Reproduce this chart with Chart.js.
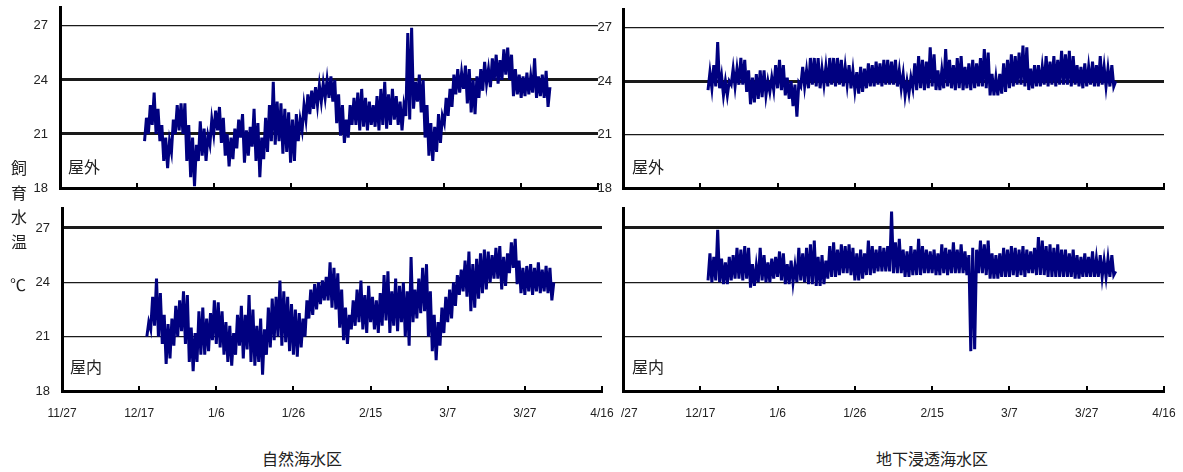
<!DOCTYPE html>
<html lang="ja">
<head>
    <meta charset="UTF-8">
    <title>飼育水温</title>
    <script src="https://cdn.jsdelivr.net/npm/chart.js"></script>
    <style>
        body {
            margin: 0;
            background: #fff;
            width: 1183px;
            height: 472px;
            position: relative;
            overflow: hidden;
            font-family: 'Noto Sans CJK JP', sans-serif;
            color: #222;
        }
        .box {
            position: absolute;
            overflow: hidden;
        }
        .box canvas {
            position: absolute;
            top: 0;
        }
        .txt {
            position: absolute;
            font-size: 16px;
            line-height: 18px;
            white-space: nowrap;
        }
    </style>
</head>
<body>
    <div class="box" style="left:0;top:-10px;width:600px;height:204px"><canvas id="natOut" width="600" height="204" style="left:0"></canvas></div>
    <div class="box" style="left:0;top:190px;width:620px;height:250px"><canvas id="natIn" width="620" height="250" style="left:0"></canvas></div>
    <div class="box" style="left:560px;top:-10px;width:623px;height:204px"><canvas id="subOut" width="623" height="204" style="left:0"></canvas></div>
    <div class="box" style="left:621px;top:190px;width:562px;height:250px"><canvas id="subIn" width="623" height="250" style="left:-61px"></canvas></div>

    <div class="txt" style="left:11px;top:155px;line-height:24.5px;width:18px">飼<br>育<br>水<br>温</div>
    <div class="txt" style="left:10px;top:275px">℃</div>
    <div class="txt" style="left:68px;top:157px">屋外</div>
    <div class="txt" style="left:70px;top:357px">屋内</div>
    <div class="txt" style="left:632px;top:157px">屋外</div>
    <div class="txt" style="left:632px;top:357px">屋内</div>
    <div class="txt" style="left:262px;top:449px">自然海水区</div>
    <div class="txt" style="left:876px;top:449px">地下浸透海水区</div>

    <script>
        const tickLabels = ['11/27', '12/17', '1/6', '1/26', '2/15', '3/7', '3/27', '4/16'];
        const tickDays = [0, 20, 40, 60, 80, 100, 120, 140];
        const yTicks = [18, 21, 24, 27];
        const startDay = 22; // first logged day (12/19), days counted from 11/27

        // 自然海水区 屋外 : daily low / high
        const natOutLo = [
            20.6, 21.0, 21.5, 21.0, 20.6, 19.5, 19.1, 20.0, 21.0, 21.2,
            21.0, 19.5, 18.6, 18.1, 19.5, 19.8, 19.5, 20.4, 21.0, 21.2,
            20.5, 19.8, 19.2, 19.6, 20.2, 20.8, 19.4, 19.8, 20.3, 19.5,
            18.6, 19.6, 20.0, 20.6, 20.4, 20.6, 19.9, 20.0, 19.4, 19.5,
            20.6, 21.2, 21.8, 22.1, 22.4, 22.6, 22.8, 23.0, 23.0, 22.8,
            21.6, 20.9, 20.5, 20.8, 21.5, 21.5, 21.2, 21.4, 21.2, 21.5,
            21.4, 21.2, 21.5, 21.3, 21.5, 21.8, 21.5, 21.2, 22.0, 21.8,
            22.4, 22.8, 22.2, 20.8, 19.8, 19.5, 20.0, 20.5, 21.6, 22.0,
            22.5, 23.2, 23.3, 23.5, 22.7, 22.2, 22.1, 23.0, 23.4, 23.8,
            23.6, 24.0, 23.8, 24.0, 24.3, 24.0, 23.1, 23.2, 23.0, 23.1,
            23.2, 23.3, 23.0, 23.1, 23.0, 22.5
        ];
        const natOutHi = [
            21.9, 22.6, 23.3, 22.4, 21.5, 20.8, 20.6, 21.8, 22.6, 22.7,
            22.7, 21.5, 20.8, 20.4, 21.7, 21.3, 20.9, 21.8, 22.3, 22.5,
            21.9, 21.0, 20.8, 21.3, 21.8, 22.1, 21.2, 21.4, 22.4, 21.6,
            20.8, 21.9, 22.6, 23.9, 22.8, 22.7, 22.4, 22.2, 21.8, 22.1,
            21.8, 22.6, 23.2, 23.4, 23.6, 23.7, 23.8, 24.0, 24.2, 24.0,
            23.2, 22.6, 21.8, 22.6, 23.0, 23.3, 23.5, 23.0, 22.8, 22.6,
            23.1, 23.5, 23.9, 23.2, 23.5, 23.1, 22.8, 22.6, 26.6, 26.9,
            23.9, 24.3, 24.0, 22.6, 21.6, 21.4, 22.1, 22.0, 23.0, 23.5,
            24.3, 24.6, 24.4, 24.8, 24.6, 24.0, 24.2, 24.6, 25.0, 24.6,
            25.2, 25.4, 25.1, 25.7, 25.8, 25.4, 24.6, 24.3, 24.2, 24.4,
            24.2, 25.2, 24.2, 24.3, 24.5, 23.6
        ];

        // 自然海水区 屋内
        const natInLo = [
            21.0, 21.4, 21.6, 21.0, 20.6, 19.5, 19.8, 20.5, 21.0, 21.3,
            20.6, 19.6, 19.1, 19.6, 20.0, 20.0, 20.2, 20.8, 20.6, 20.4,
            20.0, 19.6, 19.4, 20.0, 20.5, 19.8, 20.3, 19.6, 19.4, 19.6,
            18.9, 20.0, 20.4, 20.8, 21.0, 20.5, 20.7, 20.2, 20.0, 19.9,
            20.4, 21.0, 22.0, 22.2, 22.5, 22.8, 23.0, 23.0, 22.6, 22.5,
            21.5, 20.8, 20.6, 21.4, 21.6, 21.8, 21.4, 21.2, 21.8, 21.4,
            21.2, 21.6, 21.9, 21.2, 21.6, 21.3, 21.8, 21.0, 20.5, 21.8,
            22.0, 22.3, 22.4, 21.0, 20.2, 19.7, 20.5, 21.2, 21.8, 22.0,
            22.7, 23.3, 23.5, 23.2, 22.4, 22.6, 23.1, 23.4, 23.6, 24.0,
            24.2, 24.2, 23.6, 23.8, 24.5, 24.8, 23.9, 23.4, 23.3, 23.5,
            23.3, 23.5, 23.4, 23.5, 23.4, 23.0
        ];
        const natInHi = [
            21.8, 23.2, 24.2, 23.4, 22.2, 21.7, 22.0, 22.7, 23.0, 23.5,
            23.3, 21.5, 21.2, 22.4, 22.6, 22.0, 22.3, 23.0, 22.9, 22.4,
            21.8, 21.6, 21.2, 22.2, 22.7, 22.2, 23.3, 22.5, 21.6, 22.0,
            21.4, 22.6, 23.1, 23.2, 24.1, 23.5, 23.2, 22.8, 22.5, 22.3,
            22.0, 23.0, 23.6, 23.9, 24.0, 24.1, 24.3, 25.1, 24.8, 24.5,
            23.6, 22.6, 22.2, 23.0, 23.6, 24.1, 23.3, 23.8, 23.2, 23.0,
            23.4, 24.4, 24.6, 23.5, 24.2, 23.8, 24.0, 23.5, 25.4, 23.6,
            24.2, 24.8, 25.0, 23.5, 22.2, 21.8, 22.6, 23.2, 23.6, 24.0,
            24.4, 24.7, 25.2, 25.7, 25.0, 25.3, 25.6, 25.8, 25.7, 25.5,
            25.9, 26.0, 25.4, 25.6, 26.2, 26.4, 25.2, 24.8, 24.9, 25.0,
            24.8, 25.1, 24.7, 24.9, 24.8, 24.0
        ];

        // 地下浸透海水区 屋外
        const subOutLo = [
            23.5, 23.6, 23.7, 23.6, 23.2, 23.2, 23.8, 23.7, 23.8, 23.8,
            23.4, 22.7, 22.8, 23.0, 23.1, 23.2, 23.4, 23.5, 23.6, 23.5,
            23.2, 23.0, 22.6, 22.0, 23.7, 23.7, 23.6, 23.8, 23.7, 23.6,
            23.8, 23.7, 23.8, 23.7, 23.8, 23.7, 23.8, 23.6, 23.5, 23.3,
            23.4, 23.6, 23.7, 23.7, 23.8, 23.7, 23.8, 23.8, 23.8, 23.7,
            23.6, 23.2, 23.3, 23.6, 23.5, 23.6, 23.5, 23.6, 23.7, 23.5,
            23.5, 23.6, 23.7, 23.6, 23.5, 23.6, 23.5, 23.6, 23.5, 23.6,
            23.7, 23.7, 23.6, 23.2, 23.2, 23.2, 23.3, 23.4, 23.6, 23.7,
            23.8, 23.8, 23.7, 23.5, 23.6, 23.7, 23.7, 23.8, 23.7, 23.8,
            23.7, 23.8, 23.8, 23.8, 23.7, 23.8, 23.7, 23.6, 23.7, 23.8,
            23.7, 23.7, 23.8, 23.7, 23.7, 23.7
        ];
        const subOutHi = [
            24.5, 24.9, 26.2, 24.3, 24.0, 24.0, 24.7, 24.7, 25.3, 25.2,
            24.6, 24.2, 24.4, 24.6, 24.6, 24.0, 24.2, 24.9, 25.2, 24.9,
            24.2, 24.0, 23.8, 23.9, 24.8, 24.6, 25.3, 25.3, 25.3, 24.7,
            24.8, 25.3, 25.3, 25.3, 25.2, 24.8, 24.9, 24.6, 24.5, 24.8,
            24.7, 25.0, 24.9, 25.1, 25.0, 25.2, 25.2, 25.1, 25.2, 24.6,
            24.4, 24.0, 24.2, 25.0, 25.4, 25.2, 25.1, 25.9, 25.5, 24.6,
            24.6, 25.8, 25.2, 24.9, 25.3, 25.4, 24.8, 25.0, 25.2, 25.0,
            25.3, 25.8, 25.6, 24.4, 24.2, 24.4, 25.0, 25.2, 25.5, 25.4,
            25.6, 26.0, 25.9, 24.7, 24.9, 24.9, 24.8, 25.4, 25.1, 25.4,
            25.2, 25.7, 25.5, 25.7, 25.4, 24.9, 24.8, 25.0, 24.8, 25.1,
            24.9, 25.4, 24.8, 24.7, 24.9, 24.0
        ];

        // 地下浸透海水区 屋内
        const subInLo = [
            24.1, 24.0, 24.1, 24.0, 23.9, 23.9, 24.1, 24.2, 24.2, 24.1,
            24.2, 23.7, 23.8, 24.0, 24.1, 24.0, 24.0, 24.2, 24.3, 24.1,
            23.9, 23.9, 24.0, 24.0, 24.1, 24.0, 23.9, 23.9, 23.8, 23.8,
            23.9, 24.2, 24.3, 24.3, 24.4, 24.5, 24.5, 24.4, 24.1, 24.1,
            24.2, 24.4, 24.4, 24.5, 24.6, 24.6, 24.6, 24.6, 24.5, 24.5,
            24.5, 24.3, 24.3, 24.4, 24.4, 24.4, 24.5, 24.5, 24.5, 24.4,
            24.4, 24.5, 24.4, 24.5, 24.5, 24.5, 24.5, 24.4, 20.2, 20.3,
            24.5, 24.5, 24.4, 24.2, 24.2, 24.2, 24.3, 24.3, 24.3, 24.4,
            24.3, 24.4, 24.3, 24.5, 24.5, 24.4, 24.4, 24.4, 24.3, 24.3,
            24.3, 24.3, 24.3, 24.3, 24.3, 24.2, 24.2, 24.3, 24.3, 24.3,
            24.3, 24.3, 24.3, 24.3, 24.3, 24.4
        ];
        const subInHi = [
            25.6, 25.4, 26.9, 25.3, 25.1, 25.4, 25.5, 25.9, 25.8, 26.0,
            25.9, 25.0, 24.9, 25.9, 25.5, 25.1, 25.3, 25.4, 25.7, 25.6,
            25.0, 25.2, 24.9, 25.9, 25.6, 25.9, 26.1, 26.3, 25.4, 25.5,
            25.2, 26.0, 26.2, 25.8, 26.1, 26.0, 26.1, 25.9, 25.6, 25.8,
            25.6, 26.3, 26.0, 25.8, 26.0, 25.9, 26.0, 27.9, 26.2, 26.4,
            25.8, 25.7, 26.0, 25.8, 26.4, 26.0, 25.8, 25.7, 25.8, 25.6,
            26.1, 25.9, 25.8, 26.2, 25.8, 26.1, 25.7, 25.5, 25.9, 25.8,
            26.3, 26.1, 26.3, 25.6, 25.5, 25.6, 25.9, 25.8, 26.0, 25.9,
            25.8, 26.0, 25.8, 25.7, 25.9, 26.5, 26.3, 26.0, 26.1, 25.9,
            26.1, 25.8, 25.8, 25.6, 25.8, 25.5, 25.4, 25.6, 25.4, 25.7,
            25.3, 25.5, 25.2, 25.3, 25.5, 24.6
        ];

        // each day drawn as a low -> high swing, like the logger trace
        function zigzag(lo, hi) {
            const pts = [];
            lo.forEach((v, i) => {
                pts.push({ x: startDay + i, y: v });
                pts.push({ x: startDay + i + 0.5, y: hi[i] });
            });
            return pts;
        }

        // fixed box sizes, no extra padding for overflowing labels
        function fixBox(s, size) {
            if (s.isHorizontal()) s.height = size; else s.width = size;
            s.paddingLeft = s.paddingRight = s.paddingTop = s.paddingBottom = 0;
        }

        const tickFont = { family: "'Liberation Sans', Arial, sans-serif", size: 12 };

        function panel(id, lo, hi, p) {
            return new Chart(document.getElementById(id), {
                type: 'line',
                data: {
                    datasets: [{
                        data: zigzag(lo, hi),
                        borderColor: '#000080',
                        borderWidth: 3,
                        pointRadius: 0,
                        tension: 0,
                        fill: false
                    }]
                },
                options: {
                    responsive: false,
                    animation: false,
                    devicePixelRatio: 1,
                    layout: { padding: { left: 0, right: p.right, top: p.top, bottom: 0 } },
                    plugins: { legend: { display: false }, tooltip: { enabled: false } },
                    scales: {
                        x: {
                            type: 'linear',
                            min: 0,
                            max: 140,
                            afterBuildTicks: s => { s.ticks = tickDays.map(v => ({ value: v })); },
                            afterFit: s => fixBox(s, p.xh),
                            grid: { drawOnChartArea: false, drawTicks: true, tickLength: -5, color: '#000', lineWidth: 2 },
                            border: { display: true, color: '#000', width: 3 },
                            ticks: {
                                display: p.xLabels,
                                padding: 20,
                                maxRotation: 0,
                                autoSkip: false,
                                font: tickFont,
                                color: '#222',
                                callback: v => tickLabels[tickDays.indexOf(v)]
                            }
                        },
                        y: {
                            min: 18,
                            max: p.ymax,
                            afterBuildTicks: s => { s.ticks = yTicks.map(v => ({ value: v })); },
                            afterFit: s => fixBox(s, p.yw),
                            grid: {
                                drawTicks: false,
                                color: '#1a1a1a',
                                lineWidth: ctx => p.thick.includes(ctx.tick.value) ? 3 : 1.3
                            },
                            border: { color: '#000', width: 3 },
                            ticks: { display: p.yLabels, padding: p.ypad, font: { ...tickFont, size: 13 }, color: '#222' }
                        }
                    }
                }
            });
        }

        panel('natOut', natOutLo, natOutHi, { top: 17, right: 2, xh: 6, yw: 60, ymax: 28.05, thick: [18, 21, 24], xLabels: false, yLabels: true, ypad: 12 });
        panel('natIn', natInLo, natInHi, { top: 18, right: 18, xh: 49, yw: 62, ymax: 28.1, thick: [18, 27], xLabels: true, yLabels: true, ypad: 12 });
        panel('subOut', subOutLo, subOutHi, { top: 19, right: 19, xh: 6, yw: 63, ymax: 28.05, thick: [18, 24], xLabels: false, yLabels: true, ypad: 11 });
        panel('subIn', subInLo, subInHi, { top: 18, right: 19, xh: 49, yw: 63, ymax: 28.1, thick: [18, 27], xLabels: true, yLabels: false, ypad: 11 });
    </script>
</body>
</html>
